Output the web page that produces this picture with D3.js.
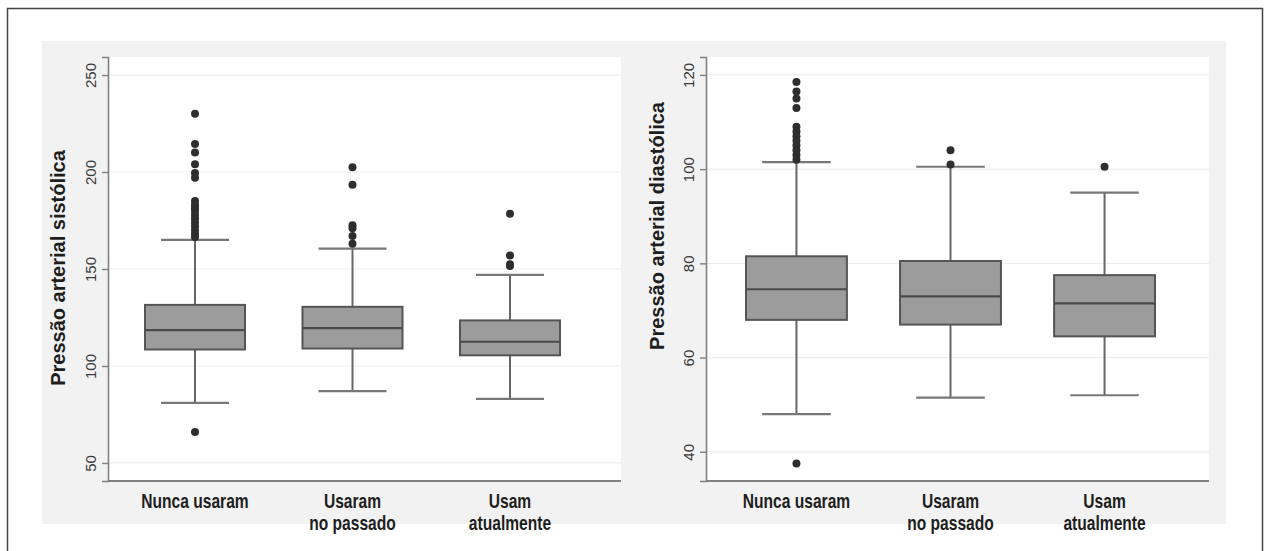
<!DOCTYPE html>
<html><head><meta charset="utf-8">
<script src="https://cdn.jsdelivr.net/npm/d3@7/dist/d3.min.js"></script>
<style>
html,body{margin:0;padding:0;background:#fff;}
svg{display:block;}
</style></head>
<body>
<svg id="chart" width="1266" height="551"></svg>
<script>
// ---------- DATA ----------
const categories = [["Nunca usaram"], ["Usaram", "no passado"], ["Usam", "atualmente"]];

const sysTicks = [50, 100, 150, 200, 250];
const sysLow = [81, 87, 83];
const sysQ1 = [108.5, 109, 105.5];
const sysMedian = [118.5, 119.5, 112.5];
const sysQ3 = [131.5, 130.5, 123.5];
const sysHigh = [165, 160.5, 147];
const sysOutliers = [
  [230, 214.5, 210, 204, 199.5, 197, 185, 183, 181.5, 180, 178, 176, 174, 172, 170, 168, 166.5, 66],
  [202.5, 193.5, 172.5, 171, 167, 163],
  [178.5, 157, 152.5, 151.5]
];

const diaTicks = [40, 60, 80, 100, 120];
const diaLow = [48, 51.5, 52];
const diaQ1 = [68, 67, 64.5];
const diaMedian = [74.5, 73, 71.5];
const diaQ3 = [81.5, 80.5, 77.5];
const diaHigh = [101.5, 100.5, 95];
const diaOutliers = [
  [118.5, 116.5, 115, 113, 109, 108, 107, 106, 105, 104, 103, 102, 37.5],
  [104, 101],
  [100.5]
];

// ---------- DRAW ----------
const svg = d3.select("#chart");

svg.append("rect").attr("x", 7.5).attr("y", 8.5).attr("width", 1255).attr("height", 560)
  .attr("fill", "#fff").attr("stroke", "#444").attr("stroke-width", 1.5);

function panel(opt) {
  const g = svg.append("g");
  g.append("rect").attr("x", opt.bgX0).attr("y", 41).attr("width", opt.bgX1 - opt.bgX0).attr("height", 483)
    .attr("fill", "#f2f2f2");
  g.append("rect").attr("x", opt.px0).attr("y", 57).attr("width", opt.px1 - opt.px0).attr("height", 424)
    .attr("fill", "#fff");

  const y = d3.scaleLinear().domain(opt.domain).range([481, 57]);
  const keys = categories.map((c, i) => i);
  const x = d3.scaleBand().domain(keys).range([opt.bx0, opt.bx1]).paddingInner(opt.pad).paddingOuter(0);
  const bw = x.bandwidth();
  const cx = i => x(i) + bw / 2;

  g.append("g").selectAll("line").data(opt.ticks).join("line")
    .attr("x1", opt.px0).attr("x2", opt.px1)
    .attr("y1", d => y(d)).attr("y2", d => y(d))
    .attr("stroke", "#e9efe9").attr("stroke-width", 1.2);

  const ax = g.append("g").attr("transform", `translate(${opt.px0},0)`)
    .call(d3.axisLeft(y).tickValues(opt.ticks).tickSize(6).tickPadding(8));
  ax.select(".domain").attr("stroke", "#808080").attr("stroke-width", 1.6);
  ax.selectAll(".tick line").attr("stroke", "#808080").attr("stroke-width", 1.4);
  ax.selectAll(".tick text")
    .attr("transform", "rotate(-90)")
    .attr("x", 0).attr("y", -12)
    .attr("text-anchor", "middle")
    .attr("dy", "0em")
    .attr("fill", "#3a3a3a")
    .style("font-family", "'Liberation Sans', Arial, sans-serif")
    .style("font-size", "15px");

  g.append("line").attr("x1", opt.px0).attr("x2", opt.px1).attr("y1", 481).attr("y2", 481)
    .attr("stroke", "#808080").attr("stroke-width", 2);

  g.append("text")
    .attr("transform", `translate(${opt.titleX},${opt.titleY}) rotate(-90)`)
    .attr("text-anchor", "middle")
    .attr("fill", "#1e1e1e")
    .style("font-family", "'Liberation Sans', Arial, sans-serif")
    .style("font-weight", "bold").style("font-size", "20px")
    .text(opt.title);

  const capW = bw * 0.68;
  const boxes = g.append("g").selectAll("g").data(keys).join("g");
  boxes.append("line").attr("x1", cx).attr("x2", cx)
    .attr("y1", i => y(opt.high[i])).attr("y2", i => y(opt.q3[i]))
    .attr("stroke", "#666").attr("stroke-width", 2);
  boxes.append("line").attr("x1", cx).attr("x2", cx)
    .attr("y1", i => y(opt.q1[i])).attr("y2", i => y(opt.low[i]))
    .attr("stroke", "#666").attr("stroke-width", 2);
  boxes.append("line").attr("x1", i => cx(i) - capW / 2).attr("x2", i => cx(i) + capW / 2)
    .attr("y1", i => y(opt.high[i])).attr("y2", i => y(opt.high[i]))
    .attr("stroke", "#777").attr("stroke-width", 2.2);
  boxes.append("line").attr("x1", i => cx(i) - capW / 2).attr("x2", i => cx(i) + capW / 2)
    .attr("y1", i => y(opt.low[i])).attr("y2", i => y(opt.low[i]))
    .attr("stroke", "#777").attr("stroke-width", 2.2);
  boxes.append("rect").attr("x", i => x(i)).attr("width", bw)
    .attr("y", i => y(opt.q3[i])).attr("height", i => y(opt.q1[i]) - y(opt.q3[i]))
    .attr("fill", "#9c9c9c").attr("stroke", "#555").attr("stroke-width", 2);
  boxes.append("line").attr("x1", i => x(i)).attr("x2", i => x(i) + bw)
    .attr("y1", i => y(opt.median[i])).attr("y2", i => y(opt.median[i]))
    .attr("stroke", "#4a4a4a").attr("stroke-width", 2.2);
  boxes.each(function (i) {
    d3.select(this).selectAll("circle").data(opt.outliers[i]).join("circle")
      .attr("cx", cx(i)).attr("cy", d => y(d)).attr("r", 4)
      .attr("fill", "#2e2e2e");
  });

  const lab = g.append("g").selectAll("text").data(keys).join("text")
    .attr("transform", i => `translate(${cx(i)},0) scale(0.8,1)`)
    .attr("text-anchor", "middle")
    .attr("fill", "#1e1e1e")
    .style("font-family", "'Liberation Sans', Arial, sans-serif")
    .style("font-weight", "bold").style("font-size", "19.5px");
  lab.each(function (i) {
    d3.select(this).selectAll("tspan").data(categories[i]).join("tspan")
      .attr("x", 0).attr("y", (d, k) => 508 + k * 22)
      .text(d => d);
  });
}

panel({
  bgX0: 42, bgX1: 630, px0: 108, px1: 621,
  bx0: 145, bx1: 560, pad: 0.365,
  domain: [40.7, 259.3], ticks: sysTicks,
  low: sysLow, q1: sysQ1, median: sysMedian, q3: sysQ3, high: sysHigh, outliers: sysOutliers,
  title: "Pressão arterial sistólica", titleX: 65, titleY: 268
});
panel({
  bgX0: 630, bgX1: 1226, px0: 706, px1: 1209,
  bx0: 746, bx1: 1155, pad: 0.345,
  domain: [33.8, 123.8], ticks: diaTicks,
  low: diaLow, q1: diaQ1, median: diaMedian, q3: diaQ3, high: diaHigh, outliers: diaOutliers,
  title: "Pressão arterial diastólica", titleX: 664, titleY: 226
});
</script>
</body></html>
